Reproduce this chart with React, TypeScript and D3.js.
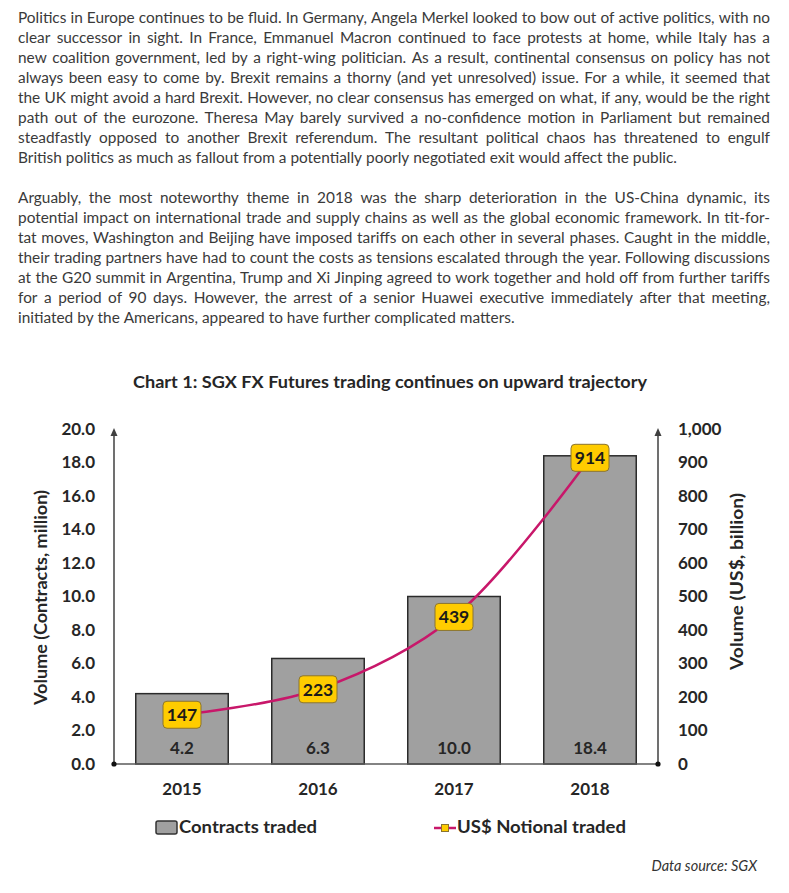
import React, { useMemo } from "react";
import * as d3 from "d3";

const years = ["2015", "2016", "2017", "2018"];
const contracts = [4.2, 6.3, 10.0, 18.4];
const notional = [147, 223, 439, 914];
const leftDomain = [0, 20];
const rightDomain = [0, 1000];

const chartTitle = "Chart 1: SGX FX Futures trading continues on upward trajectory";
const leftTitle = "Volume (Contracts, million)";
const rightTitle = "Volume (US$, billion)";
const legendBar = "Contracts traded";
const legendLine = "US$ Notional traded";
const sourceText = "Data source: SGX";

const para1 = [
  "Politics in Europe continues to be fluid. In Germany, Angela Merkel looked to bow out of active politics, with no",
  "clear successor in sight. In France, Emmanuel Macron continued to face protests at home, while Italy has a",
  "new coalition government, led by a right-wing politician. As a result, continental consensus on policy has not",
  "always been easy to come by. Brexit remains a thorny (and yet unresolved) issue. For a while, it seemed that",
  "the UK might avoid a hard Brexit. However, no clear consensus has emerged on what, if any, would be the right",
  "path out of the eurozone. Theresa May barely survived a no-confidence motion in Parliament but remained",
  "steadfastly opposed to another Brexit referendum. The resultant political chaos has threatened to engulf",
  "British politics as much as fallout from a potentially poorly negotiated exit would affect the public.",
];
const para2 = [
  "Arguably, the most noteworthy theme in 2018 was the sharp deterioration in the US-China dynamic, its",
  "potential impact on international trade and supply chains as well as the global economic framework. In tit-for-",
  "tat moves, Washington and Beijing have imposed tariffs on each other in several phases. Caught in the middle,",
  "their trading partners have had to count the costs as tensions escalated through the year. Following discussions",
  "at the G20 summit in Argentina, Trump and Xi Jinping agreed to work together and hold off from further tariffs",
  "for a period of 90 days. However, the arrest of a senior Huawei executive immediately after that meeting,",
  "initiated by the Americans, appeared to have further complicated matters.",
];

const FONT = "Lato, 'Open Sans', sans-serif";
const PARA_SIZE = 15;
const TEXT_COLOR = "#3a3a3a";
const DARK = "#262626";

function makeMeasure(font: string) {
  const ctx = document.createElement("canvas").getContext("2d")!;
  ctx.font = font;
  return (s: string) => ctx.measureText(s).width;
}

type WordPos = { w: string; x: number };

function layoutParagraph(lines: string[], x0: number, x1: number, k: number, m: (s: string) => number) {
  const total = (x1 - x0) / k;
  const sp = m(" ");
  return lines.map((line, i) => {
    const words = line.split(" ");
    const ws = words.map(m);
    const isLast = i === lines.length - 1;
    const gap = isLast || words.length < 2 ? sp : (total - d3.sum(ws)) / (words.length - 1);
    let x = 0;
    const out: WordPos[] = [];
    words.forEach((w, j) => {
      out.push({ w, x });
      x += ws[j] + gap;
    });
    return out;
  });
}

export default function App() {
  const width = 789;
  const height = 893;

  const x = d3.scaleBand<string>().domain(years).range([114, 658]).paddingInner(0.32).paddingOuter(0.16);
  const yL = d3.scaleLinear().domain(leftDomain).range([764, 429]);
  const yR = d3.scaleLinear().domain(rightDomain).range([764, 429]);
  const leftTicks = yL.ticks(10);
  const rightTicks = yR.ticks(10);
  const fmtL = d3.format(".1f");
  const fmtR = d3.format(",");

  const { p1, p2, k } = useMemo(() => {
    const m = makeMeasure(`${PARA_SIZE}px ${FONT}`);
    const nat = m(para1[para1.length - 1]);
    const kk = Math.max(0.8, Math.min(1.25, 659 / nat));
    return {
      p1: layoutParagraph(para1, 18, 770, kk, m),
      p2: layoutParagraph(para2, 18, 770, kk, m),
      k: kk,
    };
  }, []);

  const linePts: [number, number][] = years.map((yr, i) => [x(yr)! + x.bandwidth() / 2, yR(notional[i])]);
  const line = d3.line().curve(d3.curveCatmullRom.alpha(0.5))(linePts) || "";

  const renderPara = (lines: WordPos[][], y0: number) =>
    lines.map((words, i) => (
      <g key={i} transform={`translate(18,${y0 + i * 20}) scale(${k},1)`}>
        {words.map((wp, j) => (
          <text key={j} x={wp.x} y={0} dy="0.35em" fontSize={PARA_SIZE} fill={TEXT_COLOR} fontFamily={FONT}>
            {wp.w}
          </text>
        ))}
      </g>
    ));

  const axisColor = "#404040";
  const boxW = 38;
  const boxH = 27;
  const NUM = 17;

  return (
    <svg width={width} height={height} style={{ position: "absolute", left: 0, top: 0, background: "#fff" }}>
      <rect x={0} y={0} width={width} height={height} fill="#fff" />
      {renderPara(p1, 17.5)}
      {renderPara(p2, 198)}

      <text x={390} y={382} dy="0.35em" textAnchor="middle" fontFamily={FONT} fontWeight={700} fontSize={17}
        fill={DARK} textLength={514} lengthAdjust="spacingAndGlyphs">
        {chartTitle}
      </text>

      {/* bars */}
      {years.map((yr, i) => (
        <rect key={yr} x={x(yr)} y={yL(contracts[i])} width={x.bandwidth()} height={yL(0) - yL(contracts[i])}
          fill="#a0a0a0" stroke="#2b2b2b" strokeWidth={1.5} />
      ))}
      {years.map((yr, i) => (
        <text key={"v" + yr} x={x(yr)! + x.bandwidth() / 2} y={748} dy="0.35em" textAnchor="middle"
          fontFamily={FONT} fontWeight={700} fontSize={NUM} fill={DARK}>
          {fmtL(contracts[i])}
        </text>
      ))}

      {/* axes */}
      <line x1={114} y1={764} x2={658} y2={764} stroke="#5a5a5a" strokeWidth={1.5} />
      <line x1={114} y1={764} x2={114} y2={434} stroke={axisColor} strokeWidth={1.5} />
      <path d="M114,428 L110.5,436 L117.5,436 Z" fill={axisColor} />
      <line x1={658} y1={764} x2={658} y2={434} stroke={axisColor} strokeWidth={1.5} />
      <path d="M658,428 L654.5,436 L661.5,436 Z" fill={axisColor} />
      <circle cx={114} cy={764} r={2.6} fill="#111" />
      <circle cx={658} cy={764} r={2.6} fill="#111" />

      {leftTicks.map((t) => (
        <text key={"l" + t} x={95} y={yL(t)} dy="0.35em" textAnchor="end" fontFamily={FONT} fontWeight={700}
          fontSize={NUM} fill={DARK}>
          {fmtL(t)}
        </text>
      ))}
      {rightTicks.map((t) => (
        <text key={"r" + t} x={678} y={yR(t)} dy="0.35em" textAnchor="start" fontFamily={FONT} fontWeight={700}
          fontSize={NUM} fill={DARK}>
          {fmtR(t)}
        </text>
      ))}
      {years.map((yr) => (
        <text key={"x" + yr} x={x(yr)! + x.bandwidth() / 2} y={789} dy="0.35em" textAnchor="middle"
          fontFamily={FONT} fontWeight={700} fontSize={NUM} fill={DARK}>
          {yr}
        </text>
      ))}

      <text transform="translate(41,597.5) rotate(-90)" dy="0.35em" textAnchor="middle" fontFamily={FONT}
        fontWeight={700} fontSize={16.5} fill={DARK} textLength={215} lengthAdjust="spacingAndGlyphs">
        {leftTitle}
      </text>
      <text transform="translate(737,581.5) rotate(-90)" dy="0.35em" textAnchor="middle" fontFamily={FONT}
        fontWeight={700} fontSize={16.5} fill={DARK} textLength={177} lengthAdjust="spacingAndGlyphs">
        {rightTitle}
      </text>

      {/* line series */}
      <path d={line} fill="none" stroke="#c8176a" strokeWidth={2.5} />
      {linePts.map(([px, py], i) => (
        <g key={"b" + i}>
          <rect x={px - boxW / 2} y={py - boxH / 2} width={boxW} height={boxH} rx={4} fill="#ffcc00"
            stroke="#8a7430" strokeWidth={1} />
          <text x={px} y={py} dy="0.36em" textAnchor="middle" fontFamily={FONT} fontWeight={700} fontSize={17.5}
            fill="#1a1a1a">
            {notional[i]}
          </text>
        </g>
      ))}

      {/* legend */}
      <rect x={156} y={821} width={21} height={13} rx={2} fill="#a0a0a0" stroke="#333" strokeWidth={1.5} />
      <text x={179} y={827.5} dy="0.35em" fontFamily={FONT} fontWeight={700} fontSize={16.5} fill={DARK}
        textLength={138} lengthAdjust="spacingAndGlyphs">
        {legendBar}
      </text>
      <line x1={434} y1={828} x2={456} y2={828} stroke="#c8176a" strokeWidth={2.5} />
      <rect x={441.5} y={824.5} width={7} height={7} fill="#ffcc00" stroke="#8a7430" strokeWidth={1} />
      <text x={457} y={827.5} dy="0.35em" fontFamily={FONT} fontWeight={700} fontSize={16.5} fill={DARK}
        textLength={169} lengthAdjust="spacingAndGlyphs">
        {legendLine}
      </text>

      <text x={757} y={866} dy="0.35em" textAnchor="end" fontFamily={FONT} fontStyle="italic" fontSize={14.5}
        fill="#333">
        {sourceText}
      </text>
    </svg>
  );
}
